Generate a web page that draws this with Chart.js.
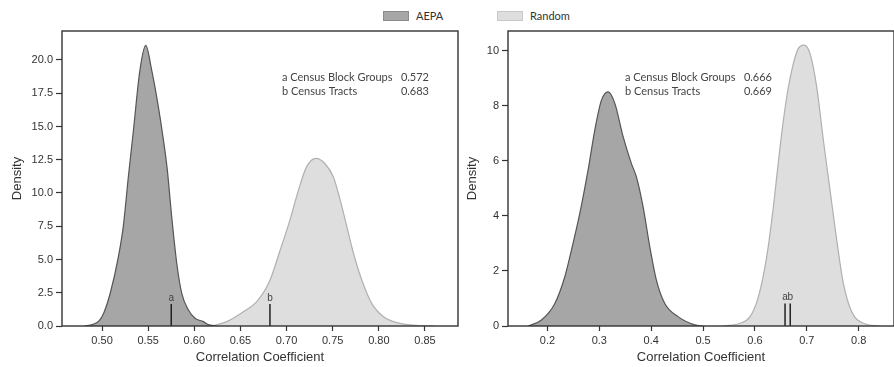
<!DOCTYPE html>
<html lang="en">
<head>
    <meta charset="UTF-8">
    <title>Correlation Coefficient Density</title>
    <style>
        body, html {
            margin: 0;
            padding: 0;
            background: #fff;
            width: 894px;
            height: 367px;
            overflow: hidden;
        }
        .panel {
            position: absolute;
            top: 0;
        }
        .legend {
            position: absolute;
            top: 9px;
            font-family: Lato, "Open Sans", sans-serif;
            font-size: 11px;
            color: #333;
            line-height: 14px;
        }
        .legend span.box {
            display: inline-block;
            width: 24px;
            height: 8px;
            vertical-align: middle;
            margin-right: 7px;
            margin-top: -2px;
        }
    </style>
</head>
<body>

<div class="legend" style="left:383px;"><span class="box" style="background:#a6a6a6;border:1px solid #8a8a8a;"></span>AEPA</div>
<div class="legend" style="left:497px;"><span class="box" style="background:#dedede;border:1px solid #c8c8c8;"></span>Random</div>

<div class="panel" style="left:0;"><canvas id="leftChart" width="470" height="367"></canvas></div>
<div class="panel" style="left:460px;"><canvas id="rightChart" width="434" height="367"></canvas></div>

<script src="https://cdn.jsdelivr.net/npm/chart.js"></script>
<script type="text/javascript">
    // left panel: census block groups / tracts densities
    var leftAepaX = [0.481, 0.490, 0.497, 0.502, 0.509, 0.5177, 0.523, 0.5285, 0.534, 0.541, 0.5474, 0.5539, 0.561, 0.5665, 0.5708, 0.5755, 0.581, 0.5864, 0.5936, 0.6008, 0.6098, 0.615, 0.624];
    var leftAepaY = [0, 0.12, 0.4, 1.0, 2.5, 5.2, 7.47, 11.2, 14.7, 19.2, 21.1, 19.2, 16.5, 14.0, 11.7, 8.2, 4.7, 2.45, 1.2, 0.58, 0.33, 0.1, 0];
    var leftRandomX = [0.62, 0.635, 0.6532, 0.6677, 0.6821, 0.693, 0.7038, 0.7128, 0.7219, 0.732, 0.7417, 0.7507, 0.758, 0.7653, 0.7725, 0.7815, 0.7923, 0.805, 0.823, 0.841, 0.86];
    var leftRandomY = [0.02, 0.33, 1.08, 1.83, 3.46, 5.7, 8.0, 10.2, 12.0, 12.6, 12.2, 11.2, 9.5, 7.47, 5.47, 3.46, 1.7, 0.7, 0.2, 0.05, 0];
    var leftMarkers = [0.575, 0.682];
    var leftMarkerHeight = 1.65;
    var leftRows = ['a Census Block Groups', 'b Census Tracts'];
    var leftValues = ['0.572', '0.683'];

    // right panel
    var rightAepaX = [0.163, 0.1885, 0.2143, 0.2335, 0.2463, 0.2624, 0.2784, 0.2913, 0.304, 0.317, 0.3299, 0.3459, 0.3619, 0.3715, 0.3844, 0.3973, 0.41, 0.4262, 0.4518, 0.484, 0.5];
    var rightAepaY = [0, 0.22, 0.82, 1.79, 2.76, 4.09, 5.67, 7.12, 8.2, 8.51, 8.09, 6.88, 5.9, 5.42, 4.33, 2.88, 1.67, 0.82, 0.34, 0.04, 0];
    var rightRandomX = [0.54, 0.5713, 0.5906, 0.6066, 0.6227, 0.6355, 0.6484, 0.6613, 0.6741, 0.6837, 0.6946, 0.7062, 0.719, 0.7318, 0.7447, 0.7576, 0.7704, 0.7865, 0.809, 0.84];
    var rightRandomY = [0, 0.1, 0.34, 1.06, 2.52, 4.33, 6.51, 8.33, 9.54, 10.09, 10.21, 9.9, 8.69, 6.76, 4.94, 3.12, 1.55, 0.52, 0.1, 0];
    var rightMarkers = [0.658, 0.668];
    var rightMarkerHeight = 0.82;
    var rightRows = ['a Census Block Groups', 'b Census Tracts'];
    var rightValues = ['0.666', '0.669'];

    var markerLetters = ['a', 'b'];
    var tickFont = {family: '"Liberation Sans", Arial, sans-serif', size: 11};
    var titleFont = {family: '"Liberation Sans", Arial, sans-serif', size: 13};

    function toPoints(xs, ys) {
        return xs.map(function(x, i) { return {x: x, y: ys[i]}; });
    }

    // frame around plot area + marker letters + the little value table
    var extrasPlugin = {
        id: 'extras',
        afterDraw: function(chart) {
            var ctx = chart.ctx;
            var area = chart.chartArea;
            var opts = chart.options.plugins.extras;
            ctx.save();
            ctx.strokeStyle = '#333';
            ctx.lineWidth = 1.4;
            ctx.strokeRect(area.left, area.top, area.right - area.left, area.bottom - area.top);

            ctx.fillStyle = '#444';
            ctx.font = '10px "Liberation Sans", Arial, sans-serif';
            ctx.textAlign = 'center';
            ctx.textBaseline = 'bottom';
            opts.markers.forEach(function(mx, i) {
                var px = chart.scales.x.getPixelForValue(mx);
                var py = chart.scales.y.getPixelForValue(opts.markerHeight);
                ctx.fillText(markerLetters[i], px, py - 1);
            });

            ctx.font = '11px Lato, "Open Sans", sans-serif';
            ctx.textBaseline = 'middle';
            opts.rows.forEach(function(label, i) {
                var y = area.top + 46 + i * 14;
                ctx.textAlign = 'left';
                ctx.fillText(label, area.left + opts.textX, y);
                ctx.textAlign = 'right';
                ctx.fillText(opts.values[i], area.left + opts.valueX, y);
            });
            ctx.restore();
        }
    };

    function makeChart(canvasId, cfg) {
        var markerSets = cfg.markers.map(function(mx) {
            return {
                data: [{x: mx, y: 0}, {x: mx, y: cfg.markerHeight}],
                borderColor: '#222',
                borderWidth: 1.5,
                pointRadius: 0,
                fill: false,
                order: 0
            };
        });
        var ctx = document.getElementById(canvasId).getContext('2d');
        return new Chart(ctx, {
            type: 'line',
            data: {
                datasets: [{
                    label: 'AEPA',
                    data: toPoints(cfg.aepaX, cfg.aepaY),
                    borderColor: '#555',
                    backgroundColor: '#a6a6a6',
                    borderWidth: 1.2,
                    pointRadius: 0,
                    cubicInterpolationMode: 'monotone',
                    fill: 'origin',
                    order: 2
                }, {
                    label: 'Random',
                    data: toPoints(cfg.randomX, cfg.randomY),
                    borderColor: '#b0b0b0',
                    backgroundColor: '#dedede',
                    borderWidth: 1.2,
                    pointRadius: 0,
                    cubicInterpolationMode: 'monotone',
                    fill: 'origin',
                    order: 2
                }].concat(markerSets)
            },
            options: {
                responsive: false,
                animation: false,
                layout: {padding: {top: 31, right: cfg.padRight, left: 0, bottom: 0}},
                plugins: {
                    legend: {display: false},
                    tooltip: {enabled: false},
                    extras: {
                        markers: cfg.markers,
                        markerHeight: cfg.markerHeight,
                        rows: cfg.rows,
                        values: cfg.values,
                        textX: cfg.textX,
                        valueX: cfg.valueX
                    }
                },
                scales: {
                    x: {
                        type: 'linear',
                        min: cfg.xMin,
                        max: cfg.xMax,
                        afterFit: function(scale) { scale.height = 41; },
                        border: {display: false},
                        grid: {drawOnChartArea: false, tickLength: 5, tickColor: '#333', tickWidth: 1.2},
                        ticks: {
                            stepSize: cfg.xStep,
                            includeBounds: false,
                            maxRotation: 0,
                            padding: 3,
                            color: '#333',
                            font: tickFont,
                            callback: function(v) { return v.toFixed(cfg.xDigits); }
                        },
                        title: {display: true, text: 'Correlation Coefficient', color: '#333', font: titleFont, padding: {top: 0, bottom: 2}}
                    },
                    y: {
                        min: 0,
                        max: cfg.yMax,
                        afterFit: function(scale) { scale.width = cfg.yWidth; },
                        border: {display: false},
                        grid: {drawOnChartArea: false, tickLength: 6, tickColor: '#333', tickWidth: 1.2},
                        ticks: {
                            stepSize: cfg.yStep,
                            includeBounds: false,
                            padding: 3,
                            color: '#333',
                            font: tickFont,
                            callback: function(v) { return v.toFixed(cfg.yDigits); }
                        },
                        title: {display: true, text: 'Density', color: '#333', font: titleFont, padding: {top: cfg.titlePad, bottom: 0}}
                    }
                }
            },
            plugins: [extrasPlugin]
        });
    }

    makeChart('leftChart', {
        aepaX: leftAepaX, aepaY: leftAepaY,
        randomX: leftRandomX, randomY: leftRandomY,
        markers: leftMarkers, markerHeight: leftMarkerHeight,
        rows: leftRows, values: leftValues,
        xMin: 0.4566, xMax: 0.8858, xStep: 0.05, xDigits: 2,
        yMax: 22.18, yStep: 2.5, yDigits: 1,
        yWidth: 62, titlePad: 10, padRight: 12,
        textX: 220, valueX: 367
    });

    makeChart('rightChart', {
        aepaX: rightAepaX, aepaY: rightAepaY,
        randomX: rightRandomX, randomY: rightRandomY,
        markers: rightMarkers, markerHeight: rightMarkerHeight,
        rows: rightRows, values: rightValues,
        xMin: 0.124, xMax: 0.868, xStep: 0.1, xDigits: 1,
        yMax: 10.72, yStep: 2, yDigits: 0,
        yWidth: 48, titlePad: 5, padRight: 0,
        textX: 117, valueX: 264
    });
</script>
</body>
</html>
